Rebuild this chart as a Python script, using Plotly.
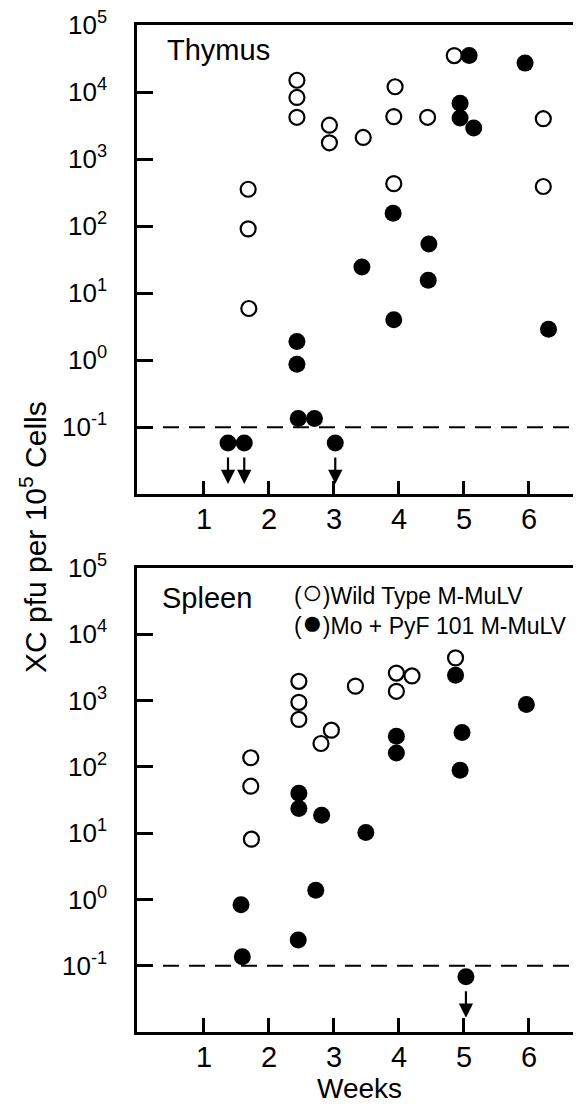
import numpy as np
import plotly.graph_objects as go

# === Dados ===
limite = 0.1  # limite de detecção (linha tracejada)

wt_timo_semanas = [1.68, 1.68, 1.69, 2.43, 2.43, 2.43, 2.93, 2.93, 3.45, 3.94, 3.92, 3.92, 4.44, 4.85, 6.22, 6.22]
wt_timo_pfu = [355, 91, 5.9, 15000, 8300, 4200, 3200, 1750, 2100, 12000, 4300, 430, 4200, 35000, 4000, 390]

mo_timo_semanas = [1.37, 1.62, 2.43, 2.43, 2.45, 2.70, 3.02, 3.43, 3.91, 3.92, 4.45, 4.46, 4.94, 4.94, 5.08, 5.15, 5.94, 6.30]
mo_timo_pfu = [0.058, 0.058, 1.9, 0.87, 0.135, 0.135, 0.058, 24.5, 155, 4.0, 15.6, 54, 6800, 4100, 35000, 2900, 27000, 2.9]

wt_baco_semanas = [1.72, 1.72, 1.73, 2.46, 2.46, 2.46, 2.80, 2.96, 3.33, 3.96, 3.96, 4.20, 4.87]
wt_baco_pfu = [137, 51, 8.1, 1950, 940, 520, 225, 357, 1650, 2600, 1380, 2350, 4400]

mo_baco_semanas = [1.57, 1.59, 2.45, 2.46, 2.46, 2.72, 2.81, 3.49, 3.96, 3.96, 4.87, 4.94, 4.97, 5.03, 5.96]
mo_baco_pfu = [0.83, 0.137, 0.245, 40, 23.5, 1.38, 18.6, 10.2, 290, 162, 2400, 89, 330, 0.068, 870]

x_ticks = [1, 2, 3, 4, 5, 6]
y_tick_exps = [-1, 0, 1, 2, 3, 4, 5]
y_tick_text = ["10<sup>%d</sup>" % e for e in y_tick_exps]

x_range = [-0.03, 6.8]
fonte = "Liberation Sans"

fig = go.Figure()

paineis = [
    ("x", "y", wt_timo_semanas, wt_timo_pfu, mo_timo_semanas, mo_timo_pfu),
    ("x2", "y2", wt_baco_semanas, wt_baco_pfu, mo_baco_semanas, mo_baco_pfu),
]

for xa, ya, wx, wy, mx, my in paineis:
    # linha tracejada do limite
    fig.add_trace(go.Scatter(
        x=x_range, y=[limite, limite], mode="lines", xaxis=xa, yaxis=ya,
        line=dict(color="black", width=2, dash="16px,10px"), hoverinfo="skip"))
    # tipo selvagem (círculos abertos)
    fig.add_trace(go.Scatter(
        x=wx, y=wy, mode="markers", xaxis=xa, yaxis=ya,
        marker=dict(symbol="circle", size=15, color="white",
                    line=dict(color="black", width=2.2))))
    # Mo + PyF101 (círculos cheios)
    fig.add_trace(go.Scatter(
        x=mx, y=my, mode="markers", xaxis=xa, yaxis=ya,
        marker=dict(symbol="circle", size=17, color="black",
                    line=dict(color="black", width=0))))
    # setas para valores abaixo do limite
    for sx, sy in zip(mx, my):
        if sy < limite:
            fig.add_annotation(
                x=sx, y=np.log10(sy), xref=xa, yref=ya, text="",
                showarrow=True, arrowhead=2, arrowsize=1.3, arrowwidth=2.2,
                arrowcolor="black", ax=0, ay=-28, yshift=-41)

eixo_x = dict(range=x_range, tickvals=x_ticks, ticks="inside", ticklen=14,
              tickwidth=2.5, tickcolor="black", showline=True, linecolor="black",
              linewidth=2.5, mirror=True, showgrid=False, zeroline=False,
              tickfont=dict(family=fonte, size=29, color="black"),
              ticklabelstandoff=-3)
eixo_y = dict(type="log", range=[-2, 5], tickvals=[10.0 ** e for e in y_tick_exps],
              ticktext=y_tick_text, ticks="inside", ticklen=16, tickwidth=2.5,
              tickcolor="black", showline=True, linecolor="black", linewidth=2.5,
              showgrid=False, zeroline=False, ticklabeloverflow="allow",
              tickfont=dict(family=fonte, size=26, color="black"),
              ticklabelstandoff=22)

# a página tem 8px de margem no body, então a figura fica 8px menor
fig.update_layout(
    width=573, height=1098,
    margin=dict(l=129, r=0, t=17, b=74),
    paper_bgcolor="white", plot_bgcolor="white",
    showlegend=False,
    font=dict(family=fonte, color="black"),
    xaxis=dict(eixo_x, anchor="y"),
    yaxis=dict(eixo_y, domain=[0.534, 1.0], anchor="x"),
    xaxis2=dict(eixo_x, anchor="y2"),
    yaxis2=dict(eixo_y, domain=[0.0, 0.4608], anchor="x2"),
)

# textos (legenda numa só anotação, símbolos um pouco maiores)
circ = '<span style="font-size:35px">%s</span>'
legenda = ("(" + circ % "○" + ")Wild Type M-MuLV<br>"
           "(" + circ % "●" + ")Mo + PyF 101 M-MuLV")
textos = [
    ("Thymus", 0.063, 0.975, 29, "left", 0),
    ("Spleen", 0.052, 0.431, 29, "left", 0),
    (legenda, 0.348, 0.423, 23, "left", 0),
    ("Weeks", 0.5, -0.0566, 28, "center", 0),
    ("XC pfu per 10<sup>5</sup> Cells", -0.234, 0.4916, 30, "center", -90),
]
for t, x, y, s, anc, ang in textos:
    fig.add_annotation(text=t, x=x, y=y, xref="paper", yref="paper",
                       xanchor=anc, yanchor="middle", align="left", showarrow=False,
                       textangle=ang, font=dict(family=fonte, size=s, color="black"))

fig.write_html("out.html")
